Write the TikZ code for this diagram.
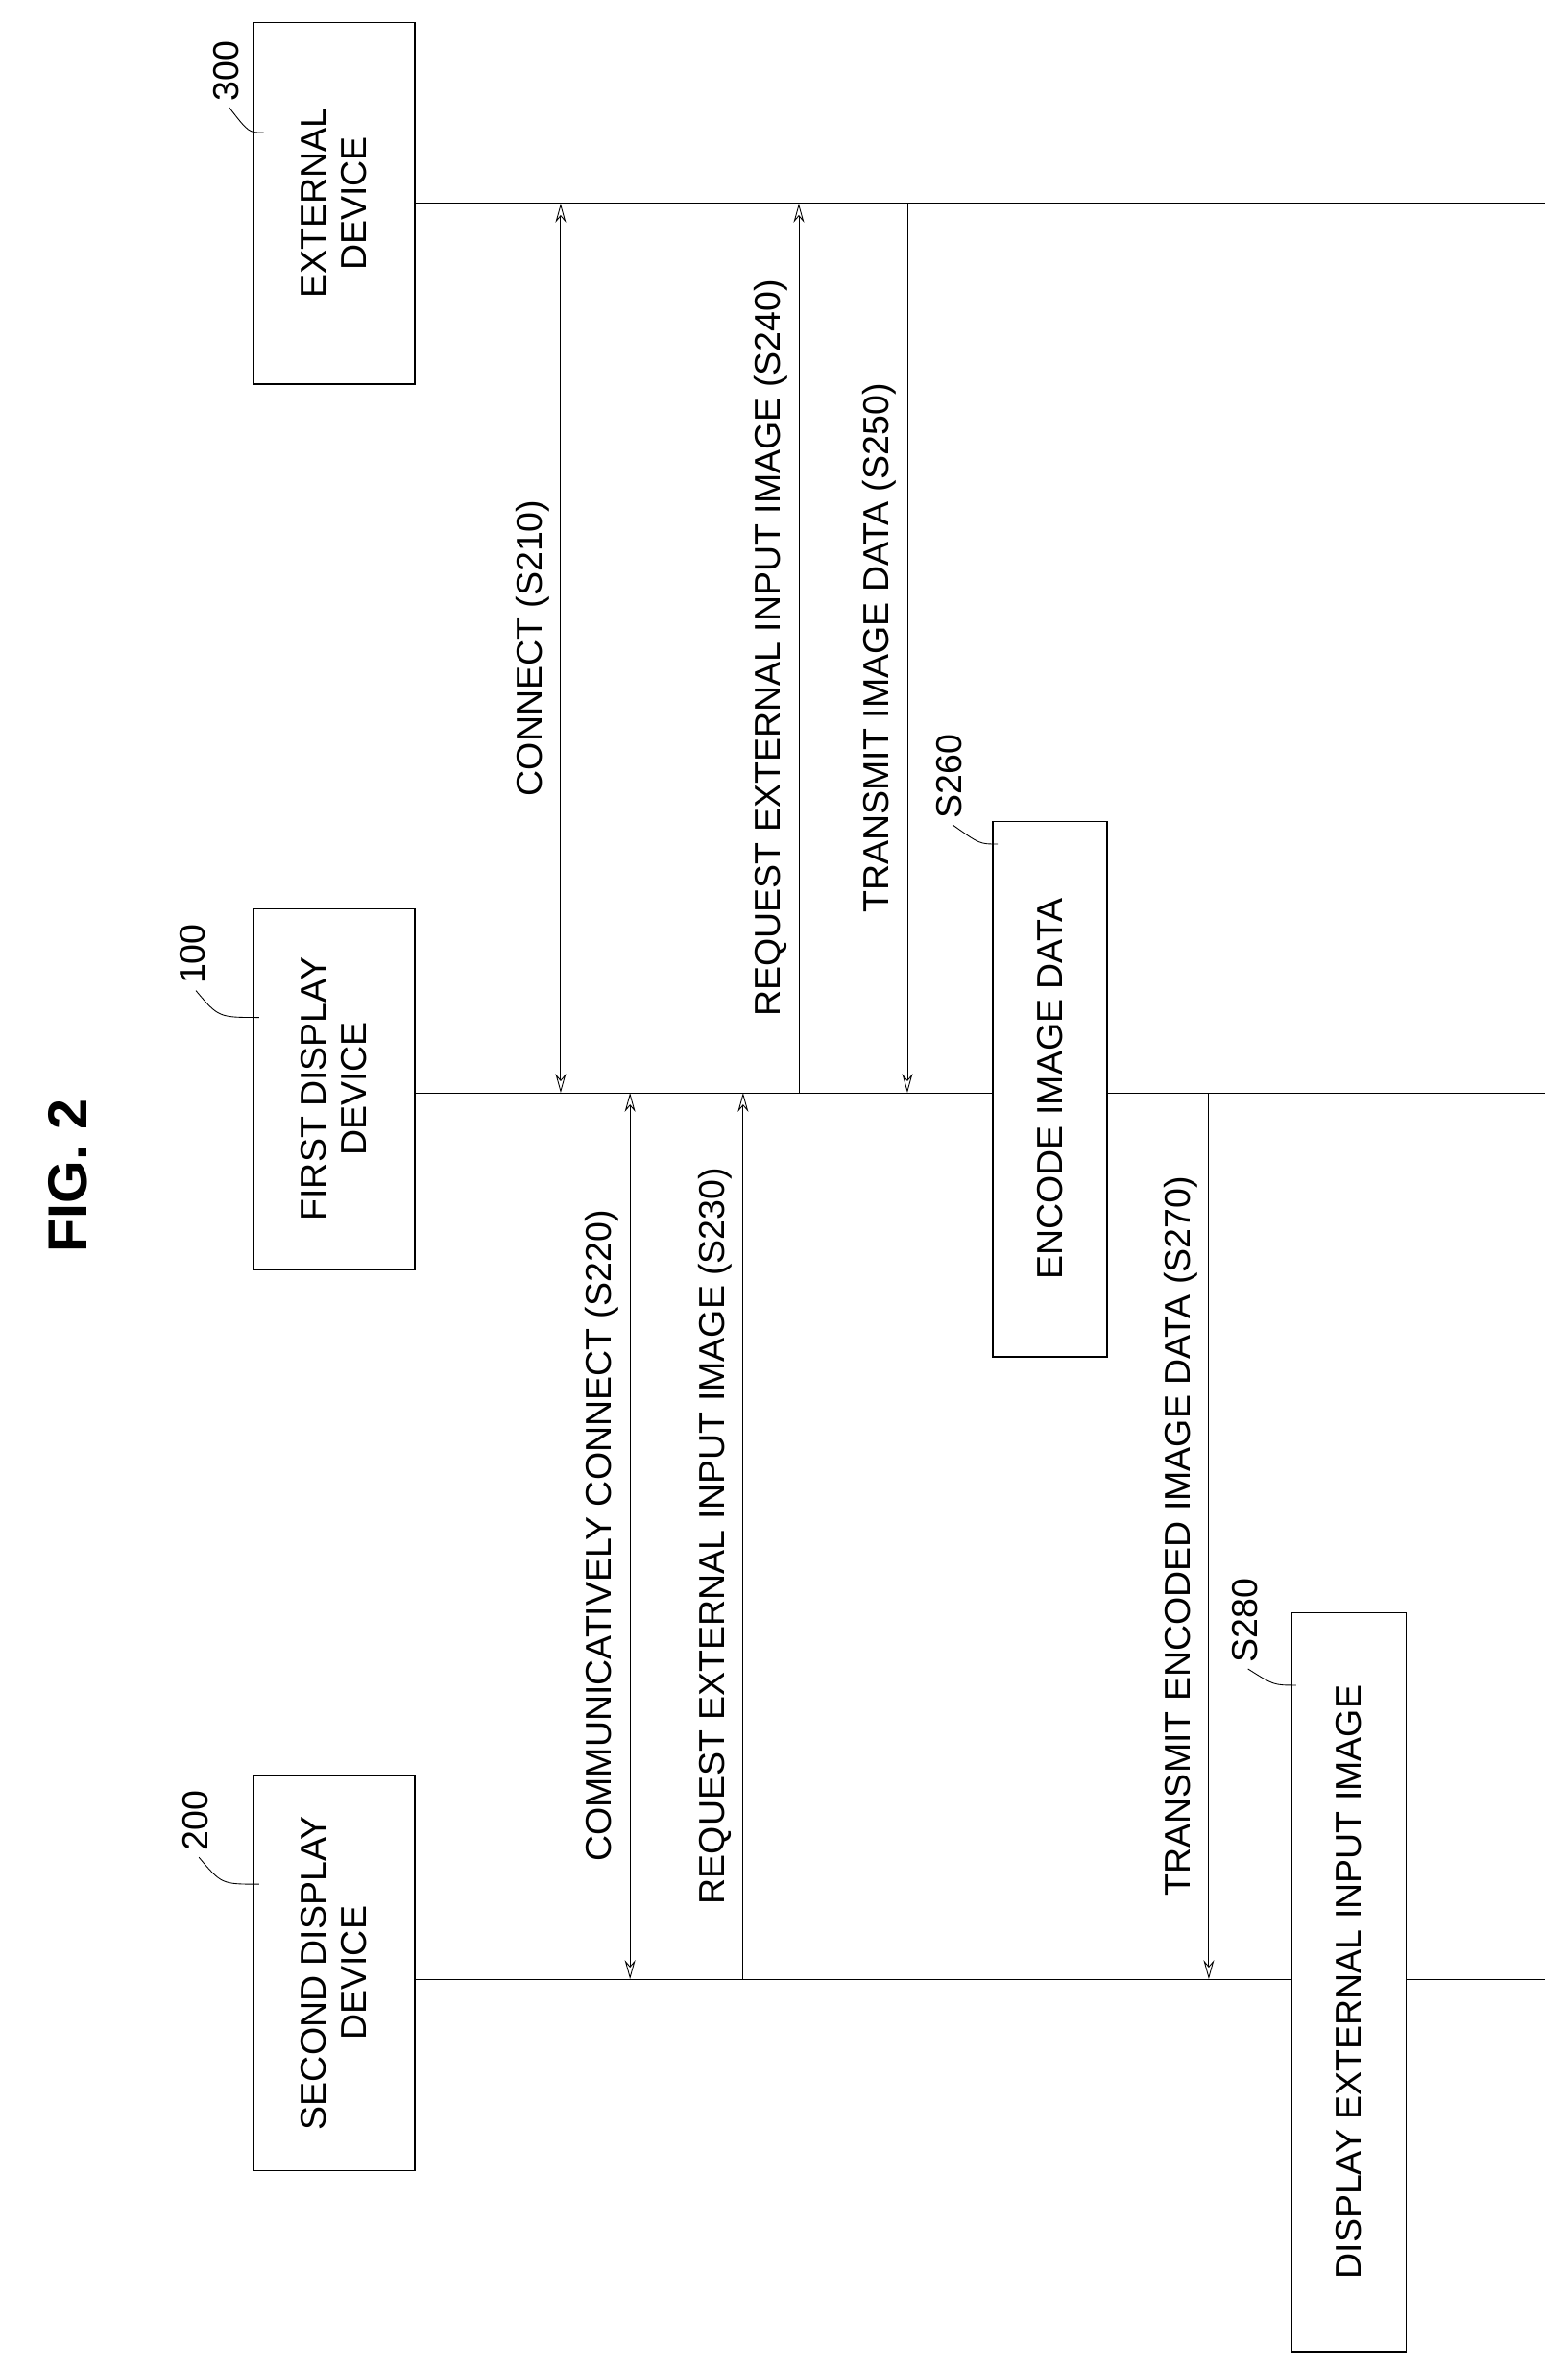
\documentclass[tikz,border=0pt]{standalone}
\usepackage{fontspec}
\setmainfont{Liberation Sans}
\usetikzlibrary{arrows.meta}
\begin{document}
\begin{tikzpicture}[x=0.025cm,y=-0.025cm,font=\fontsize{17}{19}\selectfont]
		\useasboundingbox (0,0) rectangle (1040,1571);
		\tikzset{dev/.style={draw,thick,fill=white,rotate=90,align=center,inner sep=0pt},
			lbl/.style={rotate=90,inner sep=0pt},
			side/.style={rotate=90,anchor=south,inner sep=5pt},
			msg/.style={thin,>={Stealth[length=9pt,width=5pt,open]}}}
		\node[rotate=90,font=\bfseries\fontsize{26}{28}\selectfont] (fig) at (45,780) {FIG. 2};
		% lifelines
		\coordinate (L3a) at (275,135); \coordinate (L3b) at (1025,135);
		\coordinate (L1a) at (275,725); \coordinate (L1b) at (1025,725);
		\coordinate (L2a) at (275,1313); \coordinate (L2b) at (1025,1313);
		\draw[thin] (L3a) -- (L3b);
		\draw[thin] (L1a) -- (L1b);
		\draw[thin] (L2a) -- (L2b);
		% devices
		\node[dev,minimum width=6cm,minimum height=2.675cm] (ext) at (221.5,135) {EXTERNAL\\DEVICE};
		\node[dev,minimum width=5.975cm,minimum height=2.675cm] (first) at (221.5,722.5) {FIRST DISPLAY\\DEVICE};
		\node[dev,minimum width=6.55cm,minimum height=2.675cm] (second) at (221.5,1309) {SECOND DISPLAY\\DEVICE};
		\node[lbl] (n300) at (150,47) {300};
		\node[lbl] (n100) at (128,633) {100};
		\node[lbl] (n200) at (130,1208) {200};
		\draw[thin] (n300.west) ++(2,4) .. controls (165,88) .. (175,88);
		\draw[thin] (n100.west) ++(2,4) .. controls (145,675) .. (172,675);
		\draw[thin] (n200.west) ++(2,4) .. controls (147,1250) .. (172,1250);
		% messages
		\coordinate (a1) at (372,135); \coordinate (a2) at (372,725);
		\draw[msg,<->] (a1) -- (a2) node[side,midway] {CONNECT (S210)};
		\coordinate (b1) at (418,725); \coordinate (b2) at (418,1313);
		\draw[msg,<->] (b1) -- (b2) node[side,midway] {COMMUNICATIVELY CONNECT (S220)};
		\coordinate (c1) at (493,1313); \coordinate (c2) at (493,725);
		\draw[msg,->] (c1) -- (c2) node[side,midway] {REQUEST EXTERNAL INPUT IMAGE (S230)};
		\coordinate (d1) at (530,725); \coordinate (d2) at (530,135);
		\draw[msg,->] (d1) -- (d2) node[side,midway] {REQUEST EXTERNAL INPUT IMAGE (S240)};
		\coordinate (e1) at (602,135); \coordinate (e2) at (602,725);
		\draw[msg,->] (e1) -- (e2) node[side,midway] {TRANSMIT IMAGE DATA (S250)};
		\coordinate (f1) at (802,725); \coordinate (f2) at (802,1313);
		\draw[msg,->] (f1) -- (f2) node[side,midway] {TRANSMIT ENCODED IMAGE DATA (S270)};
		% steps
		\node[dev,minimum width=8.875cm,minimum height=1.9cm] (enc) at (696.5,722.5) {ENCODE IMAGE DATA};
		\node[dev,minimum width=12.25cm,minimum height=1.9cm] (disp) at (895,1315) {DISPLAY EXTERNAL INPUT IMAGE};
		\node[lbl] (n260) at (630,515) {S260};
		\node[lbl] (n280) at (826,1075) {S280};
		\draw[thin] (n260.west) ++(2,4) .. controls (650,560) .. (662,560);
		\draw[thin] (n280.west) ++(2,4) .. controls (845,1118) .. (860,1118);
	\end{tikzpicture}
\end{document}
